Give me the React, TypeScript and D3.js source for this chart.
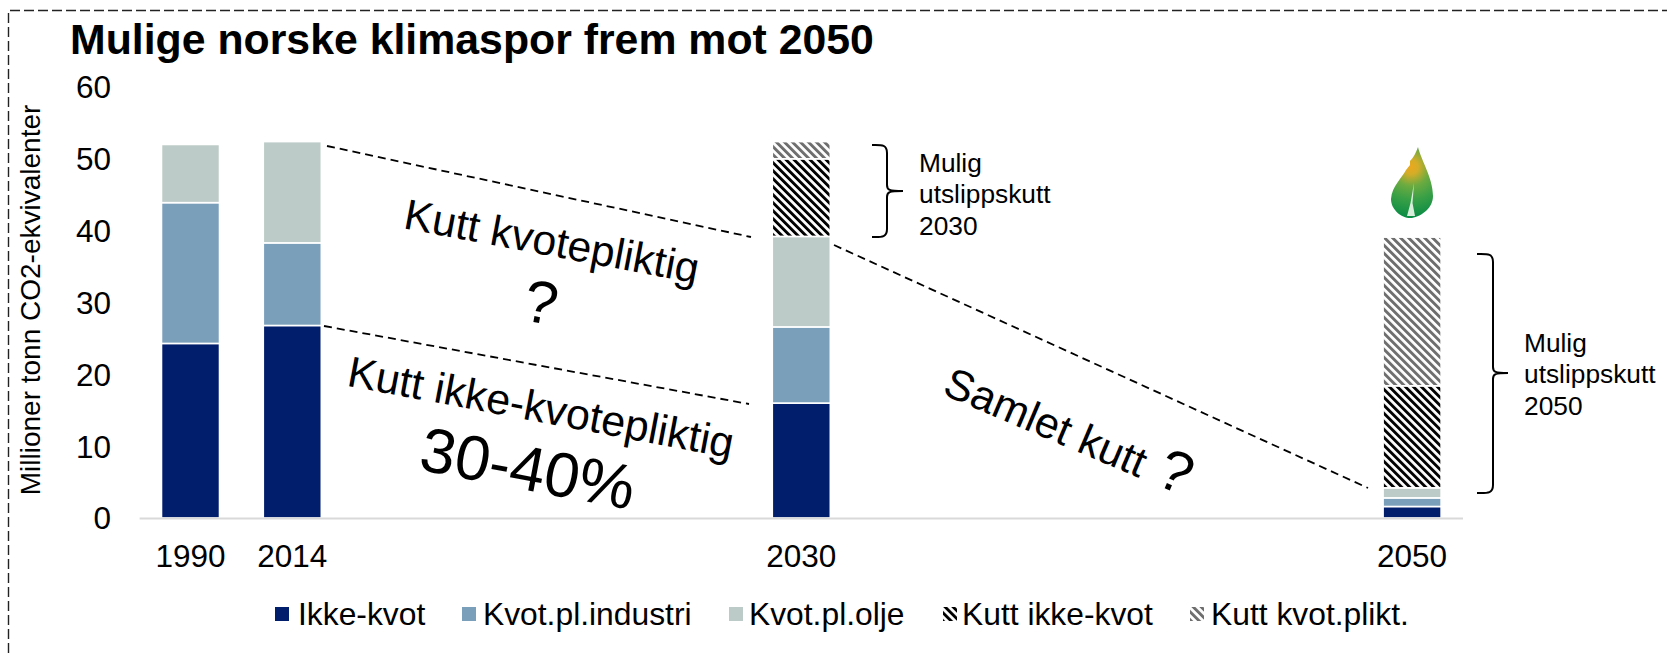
import React from "react";
import * as d3 from "d3";

const slots = ["1990", "2014", "", "", "", "", "2030", "", "", "", "", "", "2050"];
const years = ["1990", "2014", "2030", "2050"];
const ikkeKvot = [24.3, 26.8, 16.0, 1.6];
const industri = [19.6, 11.5, 10.6, 1.2];
const olje = [8.1, 14.1, 12.6, 1.4];
const kuttIkke = [0, 0, 10.8, 14.2];
const kuttPlikt = [0, 0, 2.4, 20.7];
const seriesNames = ["Ikke-kvot", "Kvot.pl.industri", "Kvot.pl.olje", "Kutt ikke-kvot", "Kutt kvot.plikt."];
const seriesValues = [ikkeKvot, industri, olje, kuttIkke, kuttPlikt];
const seriesFills = ["#001e6c", "#7a9fba", "#bccbc7", "url(#hatchDark)", "url(#hatchGray)"];
const legendSwatchX = [275, 462, 729, 943, 1190];
const legendTextX = [298, 483, 749, 962, 1211];
const yTicks = [0, 10, 20, 30, 40, 50, 60];

const FONT = "'Liberation Sans', Arial, sans-serif";

const y = d3.scaleLinear().domain([0, 60]).range([518, 87]);
const x = d3
  .scaleBand<number>()
  .domain(d3.range(slots.length))
  .range([139.6, 1463])
  .paddingInner(0.43)
  .paddingOuter(0.215);

const rows = years.map((yr, i) => {
  const r: Record<string, number | string> = { year: yr };
  seriesNames.forEach((n, s) => (r[n] = seriesValues[s][i]));
  return r;
});
const stacked = d3.stack<any>().keys(seriesNames)(rows);
const xOf = (yr: string) => x(slots.indexOf(yr)) as number;

const rotatedTexts = [
  { t: "Kutt kvotepliktig", cx: 552, cy: 241, a: 10.7, fs: 42.7 },
  { t: "?", cx: 541, cy: 302, a: 10.7, fs: 60 },
  { t: "Kutt ikke-kvotepliktig", cx: 541, cy: 407, a: 10.7, fs: 43 },
  { t: "30-40%", cx: 528, cy: 468, a: 10.7, fs: 63 },
  { t: "Samlet kutt", cx: 1046, cy: 422, a: 23, fs: 43 },
  { t: "?", cx: 1176, cy: 471, a: 23, fs: 58 },
];

const connectors = [
  [327, 146, 751, 237],
  [324, 326, 749, 404],
  [834, 245, 1368, 488],
];

const brace = (x0: number, xm: number, xt: number, y0: number, ym: number, y1: number) =>
  `M${x0},${y0} C${xm - 6},${y0} ${xm},${y0 - 1} ${xm},${y0 + 8} L${xm},${ym - 6} C${xm},${ym - 1} ${xm + 2},${ym} ${xt},${ym}` +
  ` M${xt},${ym} C${xm + 2},${ym} ${xm},${ym + 1} ${xm},${ym + 6} L${xm},${y1 - 8} C${xm},${y1 + 1} ${xm - 6},${y1} ${x0},${y1}`;

const notes = [
  { x: 919, lines: ["Mulig", "utslippskutt", "2030"], base: [172, 203, 235] },
  { x: 1524, lines: ["Mulig", "utslippskutt", "2050"], base: [352, 383, 415] },
];

export default function App() {
  return (
    <svg
      width={1667}
      height={653}
      viewBox="0 0 1667 653"
      style={{ position: "absolute", left: 0, top: 0, display: "block", background: "#fff" }}
      fontFamily={FONT}
    >
      <defs>
        <pattern id="hatchDark" patternUnits="userSpaceOnUse" width={5.66} height={5.66} patternTransform="rotate(-45)">
          <rect width={5.66} height={5.66} fill="#fff" />
          <rect width={2.9} height={5.66} fill="#000" />
        </pattern>
        <pattern id="hatchGray" patternUnits="userSpaceOnUse" width={5.66} height={5.66} patternTransform="rotate(-45)">
          <rect width={5.66} height={5.66} fill="#fff" />
          <rect width={2.9} height={5.66} fill="#6e6e6e" />
        </pattern>
        <radialGradient id="leafGrad" gradientUnits="userSpaceOnUse" cx={1411} cy={167} r={52}>
          <stop offset="0" stopColor="#eba81d" />
          <stop offset="0.14" stopColor="#d4ad28" />
          <stop offset="0.36" stopColor="#6dab40" />
          <stop offset="0.62" stopColor="#3aa046" />
          <stop offset="1" stopColor="#068a45" />
        </radialGradient>
      </defs>

      {/* outer dashed frame */}
      <path d="M8.5,653 L8.5,10.5 L1667,10.5" fill="none" stroke="#222" strokeWidth={1.4} strokeDasharray="10 4" />

      <text x={70} y={54} fontSize={42.8} fontWeight={700} fill="#000">
        Mulige norske klimaspor frem mot 2050
      </text>

      <text
        transform={`translate(40,300) rotate(-90)`}
        textAnchor="middle"
        fontSize={28}
        fill="#000"
      >
        Millioner tonn CO2-ekvivalenter
      </text>

      {yTicks.map((t) => (
        <text key={t} x={111} y={y(t)} dy="0.36em" textAnchor="end" fontSize={31.5} fill="#000">
          {t}
        </text>
      ))}

      {stacked.map((s, si) => (
        <g key={seriesNames[si]} fill={seriesFills[si]}>
          {s.map((d, i) =>
            d[1] - d[0] > 0 ? (
              <rect
                key={years[i]}
                x={xOf(years[i])}
                width={x.bandwidth()}
                y={y(d[1])}
                height={y(d[0]) - y(d[1])}
                stroke="#fff"
                strokeWidth={1.6}
              />
            ) : null
          )}
        </g>
      ))}

      <line x1={139.6} x2={1463} y1={y(0) + 0.5} y2={y(0) + 0.5} stroke="#d9d9d9" strokeWidth={2} />

      {years.map((yr) => (
        <text key={yr} x={xOf(yr) + x.bandwidth() / 2} y={567} textAnchor="middle" fontSize={31.5} fill="#000">
          {yr}
        </text>
      ))}

      {connectors.map((c, i) => (
        <line key={i} x1={c[0]} y1={c[1]} x2={c[2]} y2={c[3]} stroke="#000" strokeWidth={1.8} strokeDasharray="8 5" />
      ))}

      {rotatedTexts.map((r, i) => (
        <text
          key={i}
          transform={`translate(${r.cx},${r.cy}) rotate(${r.a})`}
          textAnchor="middle"
          dy="0.35em"
          fontSize={r.fs}
          fill="#000"
        >
          {r.t}
        </text>
      ))}

      <path d={brace(872, 887, 903, 145, 191, 237)} fill="none" stroke="#000" strokeWidth={2} />
      <path d={brace(1477, 1493, 1508, 254, 373, 493)} fill="none" stroke="#000" strokeWidth={2} />

      {notes.map((n) => (
        <g key={n.x}>
          {n.lines.map((l, i) => (
            <text key={i} x={n.x} y={n.base[i]} fontSize={26.3} fill="#000">
              {l}
            </text>
          ))}
        </g>
      ))}

      {/* leaf */}
      <path
        d="M1418,147 C1421,160 1433,178 1433,196 C1433,208 1422,216 1412,218 C1402,219 1391,210 1391,199 C1392,186 1402,178 1406,170 L1410,165 L1410,161 C1413,158 1416,153 1418,147 Z"
        fill="url(#leafGrad)"
      />
      <path d="M1414,183 L1412.5,203 L1415,216 L1407,216 L1410.5,203 Z" fill="#d8eedb" />

      {seriesNames.map((n, i) => (
        <g key={n}>
          <rect x={legendSwatchX[i]} y={607} width={14} height={14} fill={seriesFills[i]} />
          <text x={legendTextX[i]} y={625} fontSize={31.8} fill="#000">
            {n}
          </text>
        </g>
      ))}
    </svg>
  );
}
